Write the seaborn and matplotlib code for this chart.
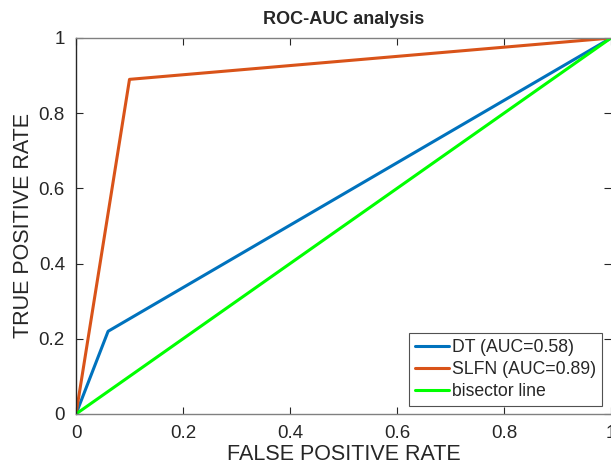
import pandas as pd
import matplotlib
matplotlib.use("Agg")
import matplotlib.pyplot as plt
import seaborn as sns

# ROC points
dt_fpr = [0.0, 0.06, 1.0]
dt_tpr = [0.0, 0.22, 1.0]
slfn_fpr = [0.0, 0.10, 1.0]
slfn_tpr = [0.0, 0.89, 1.0]
bis_fpr = [0.0, 1.0]
bis_tpr = [0.0, 1.0]
labels = ["DT (AUC=0.58)", "SLFN (AUC=0.89)", "bisector line"]
colors = ["#0072BD", "#D95319", "#00FF00"]
ticks = [0, 0.2, 0.4, 0.6, 0.8, 1]
tick_labels = ["0", "0.2", "0.4", "0.6", "0.8", "1"]

df = pd.concat([
    pd.DataFrame({"fpr": dt_fpr, "tpr": dt_tpr, "model": labels[0]}),
    pd.DataFrame({"fpr": slfn_fpr, "tpr": slfn_tpr, "model": labels[1]}),
    pd.DataFrame({"fpr": bis_fpr, "tpr": bis_tpr, "model": labels[2]}),
])

sns.set_style("ticks")
plt.rcParams["font.family"] = ["Liberation Sans", "DejaVu Sans"]

fig = plt.figure(figsize=(6.11, 4.68), dpi=100)
ax = fig.add_axes([76 / 611, 54 / 468, 535 / 611, 376 / 468])

sns.lineplot(data=df, x="fpr", y="tpr", hue="model", palette=colors,
             linewidth=2.2, ax=ax, sort=False, estimator=None)

ax.set_xlim(0, 1)
ax.set_ylim(0, 1)
ax.set_xticks(ticks)
ax.set_xticklabels(tick_labels)
ax.set_yticks(ticks)
ax.set_yticklabels(tick_labels)
ax.tick_params(direction="in", length=5, width=0.8, color="#262626",
               labelsize=13.5, top=True, right=True, pad=8)
for s in ax.spines.values():
    s.set_color("#808080")
    s.set_linewidth(1.0)
ax.spines["left"].set_color("#262626")
ax.spines["right"].set_visible(False)

ax.set_xlabel("FALSE POSITIVE RATE", fontsize=15.5, labelpad=1)
ax.set_ylabel("TRUE POSITIVE RATE", fontsize=15.5, labelpad=3)
ax.set_title("ROC-AUC analysis", fontsize=13, fontweight="bold", pad=10)

leg = ax.legend(loc="lower right", bbox_to_anchor=(0.983, 0.02), fontsize=12.7,
                frameon=True, fancybox=False, handlelength=1.9, handletextpad=0.15,
                borderpad=0.35, labelspacing=0.28, borderaxespad=0)
leg.get_frame().set_edgecolor("#262626")
leg.get_frame().set_linewidth(0.8)

fig.savefig("out.png", dpi=100)
